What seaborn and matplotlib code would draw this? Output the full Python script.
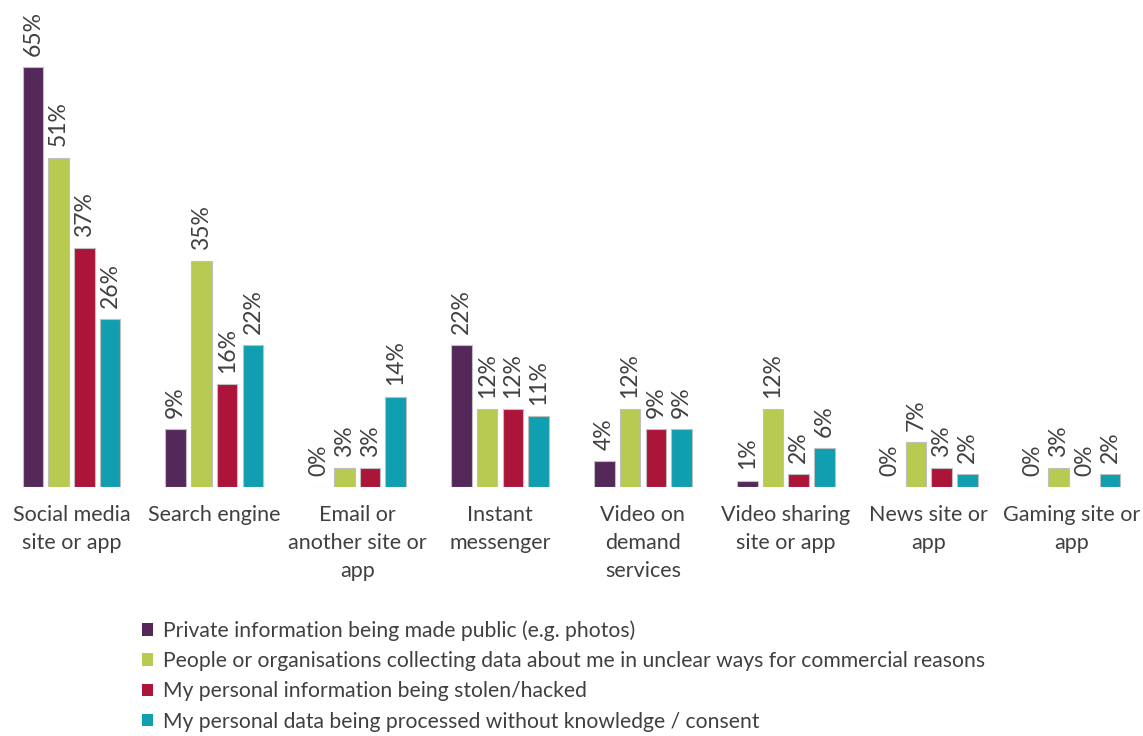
import matplotlib
matplotlib.use("Agg")
from matplotlib import pyplot as plt
import matplotlib.patches as mpatches
import seaborn as sns
import pandas as pd

# categories on the x axis
categories = ["Social media\nsite or app", "Search engine", "Email or\nanother site or\napp",
              "Instant\nmessenger", "Video on\ndemand\nservices", "Video sharing\nsite or app",
              "News site or\napp", "Gaming site or\napp"]

series = ["Private information being made public (e.g. photos)",
          "People or organisations collecting data about me in unclear ways for commercial reasons",
          "My personal information being stolen/hacked",
          "My personal data being processed without knowledge / consent"]

private_public = [65, 9, 0, 22, 4, 1, 0, 0]
collecting_data = [51, 35, 3, 12, 12, 12, 7, 3]
stolen_hacked = [37, 16, 3, 12, 9, 2, 3, 0]
no_consent = [26, 22, 14, 11, 9, 6, 2, 2]

colors = ["#55285A", "#B8CA50", "#AC143A", "#109EB1"]
text_col = "#404040"

# build long table for seaborn
rows = []
for name, vals in zip(series, [private_public, collecting_data, stolen_hacked, no_consent]):
    for cat, v in zip(categories, vals):
        rows.append({"category": cat, "concern": name, "pct": v})
df = pd.DataFrame(rows)

sns.set_style("white")
plt.rcParams['font.family'] = ['Lato', 'DejaVu Sans']

fig = plt.figure(figsize=(11.43, 7.36), dpi=100)
ax = fig.add_axes([0.0, 1 - 487 / 736, 1.0, 487 / 736])

sns.barplot(data=df, x="category", y="pct", hue="concern", palette=colors,
            saturation=1, width=0.72, gap=0.2, edgecolor="#BFBFBF", linewidth=0.8,
            legend=False, ax=ax)

for cont in ax.containers:
    ax.bar_label(cont, labels=[f"{int(v)}%" for v in cont.datavalues], rotation=90,
                 padding=8, fontsize=16.5, color=text_col)

ax.set_xlim(-0.5, 7.5)
ax.set_ylim(0, 75.4)
ax.set_xlabel("")
ax.set_ylabel("")
ax.set_yticks([])
for s in ["top", "right", "left", "bottom"]:
    ax.spines[s].set_visible(False)
ax.tick_params(axis="x", length=0, pad=13, labelsize=15.5, labelcolor=text_col)
for lab in ax.get_xticklabels():
    lab.set_verticalalignment("top")
    lab.set_linespacing(1.5)

handles = [mpatches.Patch(facecolor=c, edgecolor="none") for c in colors]
fig.legend(handles, series, loc="upper left", bbox_to_anchor=(131 / 1143, 1 - 610 / 736),
           frameon=False, fontsize=15.2, labelcolor=text_col, handlelength=0.55,
           handleheight=0.55, handletextpad=0.45, labelspacing=0.48, borderpad=0)

fig.savefig("out.png", dpi=100)
